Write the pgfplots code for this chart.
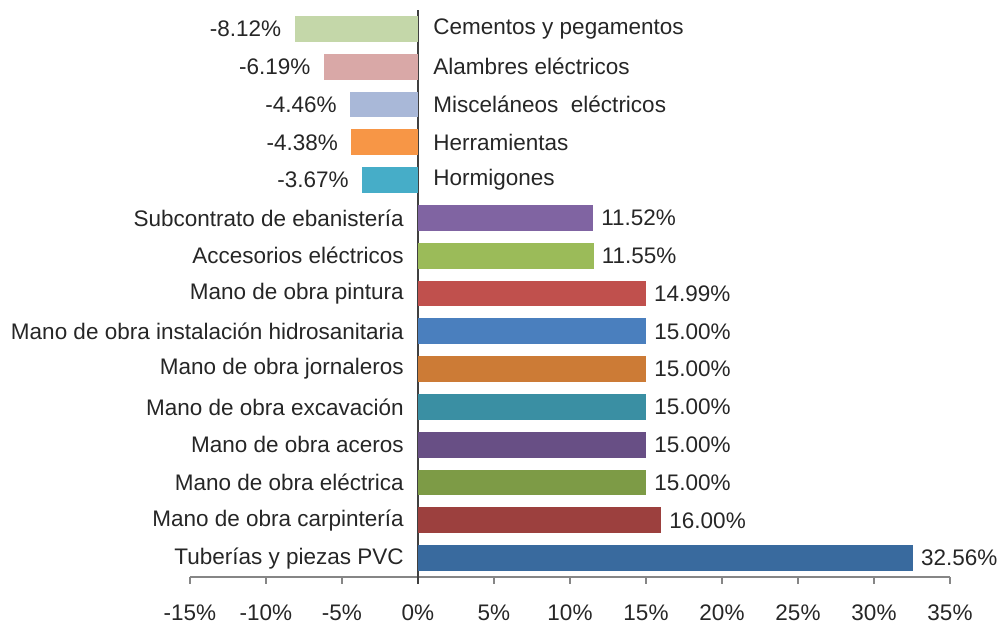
\documentclass[border=0pt]{standalone}
\usepackage{fontspec}
\setmainfont{Liberation Sans}
\usepackage{pgfplots}
\pgfplotsset{compat=1.18}
\definecolor{txt}{HTML}{262626}
\definecolor{axgray}{HTML}{868686}
\definecolor{cem}{HTML}{C4D7A9}
\definecolor{ala}{HTML}{D9A8A7}
\definecolor{mis}{HTML}{A9B8D8}
\definecolor{her}{HTML}{F79646}
\definecolor{hor}{HTML}{46ADC8}
\definecolor{sub}{HTML}{8064A2}
\definecolor{acc}{HTML}{9BBB59}
\definecolor{pin}{HTML}{C0504D}
\definecolor{hid}{HTML}{4A7FBE}
\definecolor{jor}{HTML}{CC7B36}
\definecolor{exc}{HTML}{3A8FA3}
\definecolor{ace}{HTML}{684F85}
\definecolor{ele}{HTML}{7D9B46}
\definecolor{car}{HTML}{9C403E}
\definecolor{tub}{HTML}{396A9E}

\pgfplotsset{
  valfmt/.style={nodes near coords={\pgfmathprintnumber[fixed,fixed zerofill,precision=2,assume math mode=true]{\pgfplotspointmeta}\%}},
  posbar/.style={xbar, bar width=12.9pt, bar shift=0pt, draw=none, fill=#1,
    point meta=x, valfmt, nodes near coords style={anchor=west, xshift=0.6pt, text=txt}},
  negbar/.style={xbar, bar width=12.9pt, bar shift=0pt, draw=none, fill=#1,
    point meta=x, valfmt, nodes near coords style={anchor=east, xshift=-3.2pt, text=txt}},
}

\begin{document}
\begin{tikzpicture}[font=\fontsize{11.25}{13}\selectfont]
  \begin{axis}[
      scale only axis,
      width=380pt, height=283.5pt,
      xmin=-15, xmax=35, ymin=-0.5, ymax=14.5,
      axis x line=bottom, axis y line=none,
      axis line style={draw=axgray, line width=0.8pt, -},
      xtick={-15,-10,...,35},
      tick align=outside,
      major tick length=3.5pt,
      every tick/.style={draw=axgray, line width=0.8pt},
      xticklabel={\pgfmathprintnumber[assume math mode=true]{\tick}\%},
      xticklabel style={text=txt, yshift=-6.8pt},
      extra x ticks={0}, extra x tick labels={},
      extra x tick style={grid=major, major grid style={draw=black!75, line width=0.8pt},
        every tick/.style={draw=black!75, line width=0.8pt}},
      clip=false,
    ]
    % negative bars
    \addplot[negbar=cem] coordinates {(-8.12,14)};
    \addplot[negbar=ala] coordinates {(-6.19,13)};
    \addplot[negbar=mis] coordinates {(-4.46,12)};
    \addplot[negbar=her] coordinates {(-4.38,11)};
    \addplot[negbar=hor] coordinates {(-3.67,10)};
    % positive bars
    \addplot[posbar=sub] coordinates {(11.52,9)};
    \addplot[posbar=acc] coordinates {(11.55,8)};
    \addplot[posbar=pin] coordinates {(14.99,7)};
    \addplot[posbar=hid] coordinates {(15.00,6)};
    \addplot[posbar=jor] coordinates {(15.00,5)};
    \addplot[posbar=exc] coordinates {(15.00,4)};
    \addplot[posbar=ace] coordinates {(15.00,3)};
    \addplot[posbar=ele] coordinates {(15.00,2)};
    \addplot[posbar=car] coordinates {(16.00,1)};
    \addplot[posbar=tub] coordinates {(32.56,0)};
    % category names
    \addplot[draw=none, mark=none, point meta=explicit symbolic, nodes near coords,
      nodes near coords style={anchor=west, xshift=4.2pt, text=txt}]
      coordinates {
        (0,14) [Cementos y pegamentos]
        (0,13) [Alambres eléctricos]
        (0,12) [Misceláneos\ \ eléctricos]
        (0,11) [Herramientas]
        (0,10) [Hormigones]
      };
    \addplot[draw=none, mark=none, point meta=explicit symbolic, nodes near coords,
      nodes near coords style={anchor=east, xshift=-3.6pt, text=txt}]
      coordinates {
        (0,9) [Subcontrato de ebanistería]
        (0,8) [Accesorios eléctricos]
        (0,7) [Mano de obra pintura]
        (0,6) [Mano de obra instalación hidrosanitaria]
        (0,5) [Mano de obra jornaleros]
        (0,4) [Mano de obra excavación]
        (0,3) [Mano de obra aceros]
        (0,2) [Mano de obra eléctrica]
        (0,1) [Mano de obra carpintería]
        (0,0) [Tuberías y piezas PVC]
      };
  \end{axis}
  \pgfresetboundingbox
  \useasboundingbox (-95pt,-23.5pt) rectangle (406pt,288.5pt);
\end{tikzpicture}
\end{document}
